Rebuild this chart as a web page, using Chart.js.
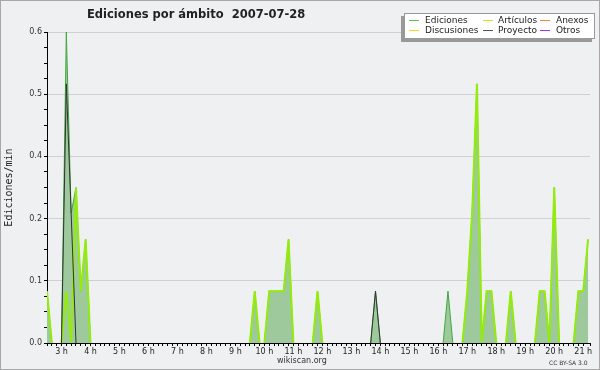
<!DOCTYPE html>
<html>
<head>
<meta charset="utf-8">
<script src="https://cdn.jsdelivr.net/npm/chart.js@4/dist/chart.umd.min.js"></script>
<style>
    body { margin: 0; background: #fff; }
    #wrap {
        position: relative; width: 600px; height: 370px; box-sizing: border-box;
        background: #eff0f1; border: 1px solid #a8a8a8; overflow: hidden;
        font-family: 'DejaVu Sans', sans-serif; color: #222;
    }
    #wrap canvas { position: absolute; left: 0; top: 0; }
    .title { position: absolute; left: 86px; top: 6px; font-size: 11.5px; font-weight: bold; white-space: pre; }
    .legend {
        position: absolute; left: 403px; top: 12px; width: 191px; height: 26px; box-sizing: border-box;
        background: #fff; border: 1px solid #999; box-shadow: -3px 3px 0 #999;
    }
    .legend .sw { position: absolute; width: 10px; height: 1px; }
    .legend .lb { position: absolute; font-size: 9px; line-height: 10px; white-space: nowrap; }
    .foot { position: absolute; font-size: 8px; color: #333; }
    .cc { position: absolute; font-size: 6px; color: #333; }
</style>
</head>
<body>
<div id="wrap">
    <canvas id="chart" width="598" height="368"></canvas>
    <div class="title">Ediciones por ámbito  2007-07-28</div>
    <div class="legend" id="legend"></div>
    <div class="foot" style="left:276px; top:355px;">wikiscan.org</div>
    <div class="cc" style="left:548px; top:358px;">CC BY-SA 3.0</div>
</div>
<script>
// minutos desde medianoche (intervalos de 10 min)
const binMinutes = [150, 160, 180, 190, 200, 210, 220, 230, 240,
    570, 580, 590,
    600, 610, 620, 630, 640, 650, 660,
    700, 710, 720,
    820, 830, 840,
    970, 980, 990,
    1010, 1020, 1030, 1040, 1050, 1060, 1070, 1080,
    1100, 1110, 1120,
    1160, 1170, 1180, 1190, 1200, 1210,
    1240, 1250, 1260, 1270];

// ediciones/min
const edicionesVals = [0.1, 0, 0, 0.6, 0.25, 0.3, 0.1, 0.2, 0,
    0, 0.1, 0,
    0, 0.1, 0.1, 0.1, 0.1, 0.2, 0,
    0, 0.1, 0,
    0, 0.1, 0,
    0, 0.1, 0,
    0, 0.1, 0.25, 0.5, 0, 0.1, 0.1, 0,
    0, 0.1, 0,
    0, 0.1, 0.1, 0, 0.3, 0,
    0, 0.1, 0.1, 0.2];
const articulosVals = [0.1, 0, 0, 0.1, 0, 0.3, 0.1, 0.2, 0,
    0, 0.1, 0,
    0, 0.1, 0.1, 0.1, 0.1, 0.2, 0,
    0, 0.1, 0,
    0, 0, 0,
    0, 0, 0,
    0, 0.1, 0.25, 0.5, 0, 0.1, 0.1, 0,
    0, 0.1, 0,
    0, 0.1, 0.1, 0, 0.3, 0,
    0, 0.1, 0.1, 0.2];
const proyectoVals = [0, 0, 0, 0.5, 0.25, 0, 0, 0, 0,
    0, 0, 0,
    0, 0, 0, 0, 0, 0, 0,
    0, 0, 0,
    0, 0.1, 0,
    0, 0, 0,
    0, 0, 0, 0, 0, 0, 0, 0,
    0, 0, 0,
    0, 0, 0, 0, 0, 0,
    0, 0, 0, 0];

const legendLabels = ['Ediciones', 'Artículos', 'Anexos', 'Discusiones', 'Proyecto', 'Otros'];
const legendColors = ['#55c455', '#c4f020', '#ff8040', '#ffd020', '#555555', '#9933ff'];

// leyenda
const legend = document.getElementById('legend');
const colX = [4, 78, 135];
const txtX = [20, 93, 151];
legendLabels.forEach((l, i) => {
    const c = i % 3, r = Math.floor(i / 3);
    const sw = document.createElement('div');
    sw.className = 'sw';
    sw.style.cssText = `left:${colX[c]}px; top:${6 + r * 10}px; background:${legendColors[i]};`;
    const lb = document.createElement('div');
    lb.className = 'lb';
    lb.style.cssText = `left:${txtX[c]}px; top:${1 + r * 10}px;`;
    lb.textContent = l;
    legend.appendChild(sw);
    legend.appendChild(lb);
});

const pts = vals => vals.map((v, i) => ({ x: binMinutes[i], y: v }));
// no dibujar la línea sobre el eje cuando ambos puntos son 0
const hideZero = { borderColor: ctx => (ctx.p0.parsed.y === 0 && ctx.p1.parsed.y === 0) ? 'transparent' : undefined };
const isMajor = v => Math.round(v / 0.03) % 4 === 0;

new Chart(document.getElementById('chart'), {
    type: 'line',
    data: {
        datasets: [
            {
                label: 'Ediciones',
                data: pts(edicionesVals),
                borderColor: '#3fa83f',
                backgroundColor: '#9dc99d',
                borderWidth: 1,
                fill: 'origin',
                order: 3,
                segment: hideZero
            },
            {
                label: 'Artículos',
                data: pts(articulosVals),
                borderColor: '#94ec0c',
                borderWidth: 2,
                fill: false,
                order: 2,
                segment: hideZero
            },
            {
                label: 'Proyecto',
                data: pts(proyectoVals),
                borderColor: '#333333',
                borderWidth: 1,
                fill: false,
                order: 1,
                segment: hideZero
            }
        ]
    },
    options: {
        responsive: false,
        animation: false,
        layout: { padding: { left: 0, top: 31, right: 9, bottom: 0 } },
        elements: { point: { radius: 0 }, line: { tension: 0 } },
        plugins: { legend: { display: false }, tooltip: { enabled: false } },
        scales: {
            x: {
                type: 'linear',
                min: 150,
                max: 1274,
                z: 1,
                afterFit: s => { s.height = 26; },
                border: { color: '#000', width: 1 },
                grid: { drawOnChartArea: false, drawTicks: true, tickLength: 3, tickColor: '#000' },
                ticks: {
                    stepSize: 10,
                    autoSkip: false,
                    maxRotation: 0,
                    minRotation: 0,
                    padding: 1,
                    font: { family: 'DejaVu Sans', size: 8 },
                    color: '#222',
                    callback: v => v % 60 === 0 ? (v / 60) + ' h' : ''
                }
            },
            y: {
                min: 0,
                max: 0.6,
                afterFit: s => { s.width = 46; },
                border: { color: '#000', width: 1 },
                grid: {
                    color: ctx => (ctx.tick && isMajor(ctx.tick.value)) ? '#cfd0d2' : 'transparent',
                    tickColor: '#000',
                    tickLength: 3
                },
                ticks: {
                    stepSize: 0.03,
                    autoSkip: false,
                    padding: 2,
                    font: { family: 'DejaVu Sans', size: 8 },
                    color: '#333',
                    callback: v => isMajor(v) ? v.toFixed(1) : ''
                },
                title: {
                    display: true,
                    text: 'Ediciones/min',
                    font: { family: 'DejaVu Sans Mono', size: 10 },
                    color: '#222',
                    padding: { top: 2, bottom: 0 }
                }
            }
        }
    }
});
</script>
</body>
</html>
